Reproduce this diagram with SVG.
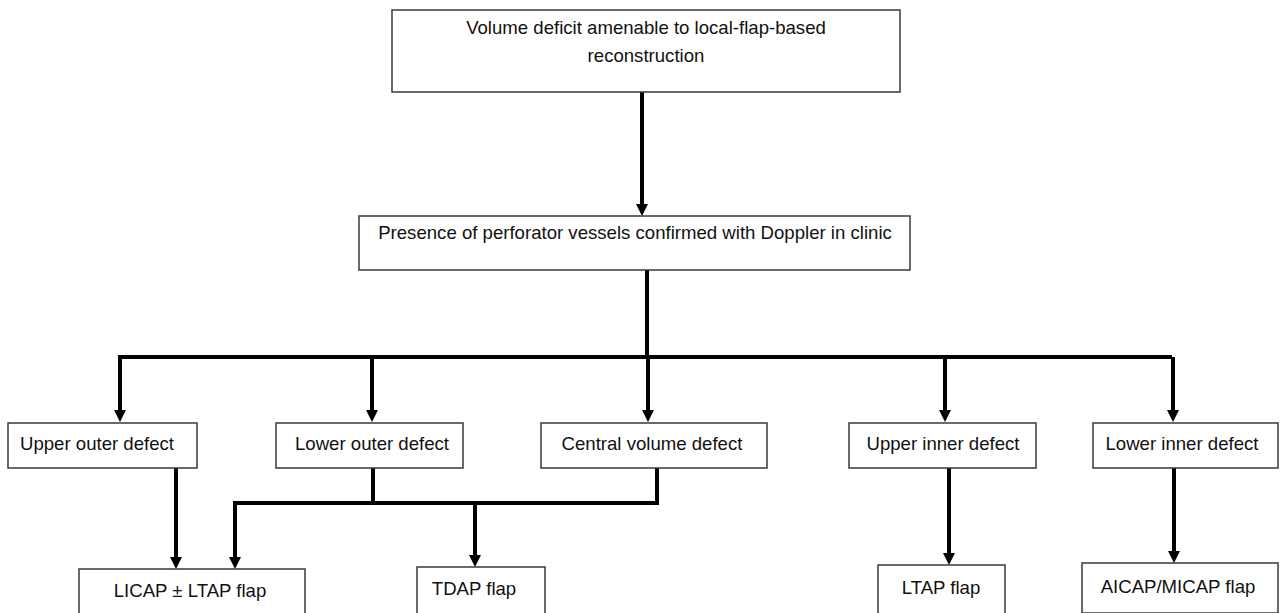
<svg xmlns="http://www.w3.org/2000/svg" width="1281" height="613" viewBox="0 0 1281 613">
<style>
.box{fill:#fff;stroke:#3a3a3a;stroke-width:1.5}
.t{font-family:"Liberation Sans",Arial,sans-serif;font-size:18.6px;fill:#111;text-anchor:middle}
.c{fill:none;stroke:#000;stroke-width:4;stroke-linejoin:miter}
</style>
<defs>
<marker id="ah" viewBox="0 0 12 12" refX="0" refY="6" markerWidth="12" markerHeight="12" markerUnits="userSpaceOnUse" orient="auto">
<path d="M0,0 L12,6 L0,12 z" fill="#000"/>
</marker>
</defs>
<rect width="1281" height="613" fill="#fff"/>
<g id="connectors">
<path class="c" d="M642,92 V204" marker-end="url(#ah)"/>
<path class="c" d="M647,270 V357"/>
<path class="c" d="M118,357 H1172"/>
<path class="c" d="M120,357 V410" marker-end="url(#ah)"/>
<path class="c" d="M372,357 V410" marker-end="url(#ah)"/>
<path class="c" d="M648,357 V410" marker-end="url(#ah)"/>
<path class="c" d="M945,357 V410" marker-end="url(#ah)"/>
<path class="c" d="M1173,357 V410" marker-end="url(#ah)"/>
<path class="c" d="M176,468 V557" marker-end="url(#ah)"/>
<path class="c" d="M373,468 V503"/>
<path class="c" d="M657,468 V503 H235 V557" marker-end="url(#ah)"/>
<path class="c" d="M475,503 V555" marker-end="url(#ah)"/>
<path class="c" d="M949,468 V553" marker-end="url(#ah)"/>
<path class="c" d="M1174,468 V551" marker-end="url(#ah)"/>
</g>
<g id="n-volume"><rect class="box" x="392" y="10" width="508" height="82"/>
<text class="t" x="646" y="34">Volume deficit amenable to local-flap-based</text>
<text class="t" x="646" y="62">reconstruction</text></g>
<g id="n-presence"><rect class="box" x="359" y="216" width="551" height="54"/>
<text class="t" x="635" y="239">Presence of perforator vessels confirmed with Doppler in clinic</text></g>
<g id="n-upper-outer"><rect class="box" x="8" y="423" width="189" height="45"/>
<text class="t" x="97" y="450">Upper outer defect</text></g>
<g id="n-lower-outer"><rect class="box" x="276" y="423" width="187" height="45"/>
<text class="t" x="372" y="450">Lower outer defect</text></g>
<g id="n-central"><rect class="box" x="541" y="423" width="226" height="45"/>
<text class="t" x="652" y="450">Central volume defect</text></g>
<g id="n-upper-inner"><rect class="box" x="849" y="423" width="187" height="45"/>
<text class="t" x="943" y="450">Upper inner defect</text></g>
<g id="n-lower-inner"><rect class="box" x="1093" y="423" width="185" height="45"/>
<text class="t" x="1182" y="450">Lower inner defect</text></g>
<g id="n-licap"><rect class="box" x="79" y="569" width="226" height="50"/>
<text class="t" x="190" y="597">LICAP ± LTAP flap</text></g>
<g id="n-tdap"><rect class="box" x="417" y="567" width="128" height="50"/>
<text class="t" x="474" y="595">TDAP flap</text></g>
<g id="n-ltap"><rect class="box" x="878" y="565" width="127" height="50"/>
<text class="t" x="941" y="594">LTAP flap</text></g>
<g id="n-aicap"><rect class="box" x="1082" y="563" width="196" height="50"/>
<text class="t" x="1178" y="593">AICAP/MICAP flap</text></g>
</svg>
